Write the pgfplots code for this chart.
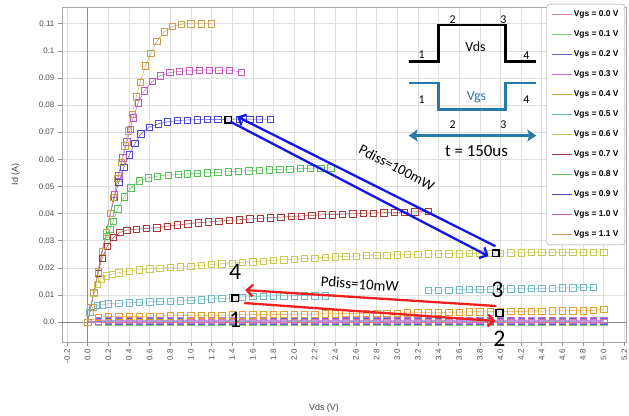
\documentclass[border=0pt]{standalone}
\usepackage{pgfplots}
\pgfplotsset{compat=1.18}
\usepackage{pgfplotstable}
\usepackage{fontspec}
\setmainfont{Liberation Sans}
\newfontfamily\calfont{Carlito}
\usetikzlibrary{arrows.meta}

\definecolor{c00}{HTML}{E878A0}
\definecolor{c01}{HTML}{78D078}
\definecolor{c02}{HTML}{6060D8}
\definecolor{c03}{HTML}{C070D8}
\definecolor{c04}{HTML}{E0A030}
\definecolor{c05}{HTML}{70B8C0}
\definecolor{c06}{HTML}{C8C850}
\definecolor{c07}{HTML}{A83838}
\definecolor{c08}{HTML}{58C058}
\definecolor{c09}{HTML}{4848C8}
\definecolor{c10}{HTML}{C058C0}
\definecolor{c11}{HTML}{C8A050}
\definecolor{vgsblue}{HTML}{2878A8}
\definecolor{arrblue}{HTML}{1414E6}
\definecolor{arrred}{HTML}{F02020}

\pgfplotstableread{
v i00 i01 i02 i03 i04
0.0 0 0 0 0 0
0.1 0 0.0001 0.0002 0.0004 0.0017
0.2 0 0.0001 0.0003 0.0006 0.0020
0.3 0 0.0001 0.0003 0.0006 0.0020
0.4 0 0.0001 0.0003 0.0006 0.0021
0.5 0 0.0001 0.0003 0.0006 0.0021
0.6 0 0.0001 0.0003 0.0006 0.0022
0.7 0 0.0001 0.0003 0.0006 0.0022
0.8 0 0.0001 0.0003 0.0006 0.0023
0.9 0 0.0001 0.0003 0.0006 0.0023
1.0 0 0.0001 0.0003 0.0006 0.0024
1.1 0 0.0001 0.0003 0.0006 0.0024
1.2 0 0.0001 0.0003 0.0006 0.0025
1.3 0 0.0001 0.0003 0.0006 0.0025
1.4 0 0.0001 0.0003 0.0006 0.0026
1.5 0 0.0001 0.0003 0.0006 0.0026
1.6 0 0.0001 0.0003 0.0006 0.0027
1.7 0 0.0001 0.0003 0.0006 0.0027
1.8 0 0.0001 0.0003 0.0006 0.0028
1.9 0 0.0001 0.0003 0.0006 0.0028
2.0 0 0.0001 0.0003 0.0006 0.0029
2.1 0 0.0001 0.0003 0.0006 0.0029
2.2 0 0.0001 0.0003 0.0006 0.0029
2.3 0 0.0001 0.0003 0.0006 0.0030
2.4 0 0.0001 0.0003 0.0006 0.0030
2.5 0 0.0001 0.0003 0.0006 0.0031
2.6 0 0.0001 0.0003 0.0006 0.0031
2.7 0 0.0001 0.0003 0.0006 0.0032
2.8 0 0.0001 0.0003 0.0006 0.0032
2.9 0 0.0001 0.0003 0.0006 0.0033
3.0 0 0.0001 0.0003 0.0006 0.0033
3.1 0 0.0001 0.0003 0.0006 0.0034
3.2 0 0.0001 0.0003 0.0006 0.0034
3.3 0 0.0001 0.0003 0.0006 0.0035
3.4 0 0.0001 0.0003 0.0006 0.0035
3.5 0 0.0001 0.0003 0.0006 0.0036
3.6 0 0.0001 0.0003 0.0006 0.0036
3.7 0 0.0001 0.0003 0.0006 0.0037
3.8 0 0.0001 0.0003 0.0006 0.0037
3.9 0 0.0001 0.0003 0.0006 0.0038
4.0 0 0.0001 0.0003 0.0006 0.0038
4.1 0 0.0001 0.0003 0.0006 0.0039
4.2 0 0.0001 0.0003 0.0006 0.0039
4.3 0 0.0001 0.0003 0.0006 0.0040
4.4 0 0.0001 0.0003 0.0006 0.0040
4.5 0 0.0001 0.0003 0.0006 0.0041
4.6 0 0.0001 0.0003 0.0006 0.0041
4.7 0 0.0001 0.0003 0.0006 0.0042
4.8 0 0.0001 0.0003 0.0006 0.0042
4.9 0 0.0001 0.0003 0.0006 0.0043
5.0 0 0.0001 0.0003 0.0006 0.0048
}\lowtab

\begin{document}
\begin{tikzpicture}
\path[use as bounding box] (0,0) rectangle (631bp,417bp);
\begin{axis}[
  at={(62bp,74bp)}, anchor=south west, scale only axis,
  width=566bp, height=336bp,
  xmin=-0.251, xmax=5.217, ymin=-0.00735, ymax=0.11618,
  xtick={-0.2,0,0.2,0.4,0.6,0.8,1.0,1.2,1.4,1.6,1.8,2.0,2.2,2.4,2.6,2.8,3.0,3.2,3.4,3.6,3.8,4.0,4.2,4.4,4.6,4.8,5.0,5.2},
  xticklabels={-0.2,0.0,0.2,0.4,0.6,0.8,1.0,1.2,1.4,1.6,1.8,2.0,2.2,2.4,2.6,2.8,3.0,3.2,3.4,3.6,3.8,4.0,4.2,4.4,4.6,4.8,5.0,5.2},
  ytick={0,0.01,0.02,0.03,0.04,0.05,0.06,0.07,0.08,0.09,0.1,0.11},
  yticklabels={0.0,0.01,0.02,0.03,0.04,0.05,0.06,0.07,0.08,0.09,0.1,0.11},
  extra x ticks={0}, extra y ticks={0},
  extra x tick labels={}, extra y tick labels={},
  extra tick style={major grid style={draw=black!45, line width=0.7bp}},
  grid=major, major grid style={draw=black!13, line width=0.5bp},
  axis line style={draw=black!35},
  tick style={draw=black!45, line width=0.5bp},
  tick align=outside, major tick length=4bp,
  xtick pos=lower, ytick pos=left,
  tick label style={font=\fontsize{8}{9}\selectfont, text=black!70},
  xticklabel style={rotate=90, anchor=east},
  xlabel={Vds (V)}, ylabel={Id (A)},
  label style={font=\fontsize{9}{10}\selectfont, text=black!75},
  xlabel style={at={(axis description cs:0.4647,-0.199)}, anchor=center},
  ylabel style={at={(axis description cs:-0.0813,0.5)}, anchor=center},
  legend image code/.code={\draw[#1, line width=1bp] (0bp,0bp) -- (20bp,0bp);},
  legend cell align=left,
  legend style={at={(axis description cs:0.9982,1.0089)}, anchor=north east,
    draw=black!40, rounded corners=3bp, fill=white,
    font=\fontsize{8.5}{10}\selectfont\bfseries,
    inner xsep=5bp, inner ysep=5bp, row sep=9.7bp,
    nodes={inner sep=1.2bp, text height=6.2bp, text depth=1.8bp}},
  every axis plot/.append style={mark=square, mark size=3.2bp, line width=0.45bp, mark options={line width=0.55bp, solid}},
]
\addlegendimage{c00}\addlegendentry{Vgs = 0.0 V}
\addlegendimage{c01}\addlegendentry{Vgs = 0.1 V}
\addlegendimage{c02}\addlegendentry{Vgs = 0.2 V}
\addlegendimage{c03}\addlegendentry{Vgs = 0.3 V}
\addlegendimage{c04}\addlegendentry{Vgs = 0.4 V}
\addlegendimage{c05}\addlegendentry{Vgs = 0.5 V}
\addlegendimage{c06}\addlegendentry{Vgs = 0.6 V}
\addlegendimage{c07}\addlegendentry{Vgs = 0.7 V}
\addlegendimage{c08}\addlegendentry{Vgs = 0.8 V}
\addlegendimage{c09}\addlegendentry{Vgs = 0.9 V}
\addlegendimage{c10}\addlegendentry{Vgs = 1.0 V}
\addlegendimage{c11}\addlegendentry{Vgs = 1.1 V}

% Vgs = 0.0 ... 0.4
\addplot[c00, forget plot] table[x=v, y=i00] {\lowtab};
\addplot[c01, forget plot] table[x=v, y=i01] {\lowtab};
\addplot[c02, forget plot] table[x=v, y=i02] {\lowtab};
\addplot[c03, forget plot] table[x=v, y=i03] {\lowtab};
\addplot[c04, forget plot] table[x=v, y=i04] {\lowtab};

% Vgs = 0.5
\addplot[c05, forget plot] coordinates {
(0,0) (0.02,0.0035) (0.05,0.0055) (0.09,0.0061) (0.14,0.0064) (0.2,0.0067)
(0.3,0.0069) (0.4,0.0071) (0.5,0.0073) (0.6,0.0074) (0.7,0.0076) (0.8,0.0077)
(0.9,0.0078) (1.0,0.0079) (1.1,0.0082) (1.2,0.0085) (1.3,0.0087) (1.4,0.0089)
(1.5,0.0092) (1.6,0.0094) (1.7,0.0095) (1.8,0.0096) (1.9,0.0096) (2.0,0.0097)
(2.1,0.0097) (2.2,0.0097) (2.3,0.0097)};
\addplot[c05, forget plot] coordinates {
(3.3,0.0117) (3.4,0.0118) (3.5,0.0118) (3.6,0.0119) (3.7,0.0120) (3.8,0.0120)
(3.9,0.0121) (4.0,0.0122) (4.1,0.0122) (4.2,0.0123) (4.3,0.0124) (4.4,0.0124)
(4.5,0.0125) (4.6,0.0126) (4.7,0.0126) (4.8,0.0127) (4.9,0.0128)};

% Vgs = 0.6
\addplot[c06, forget plot] coordinates {
(0,0) (0.03,0.0055) (0.06,0.0105) (0.09,0.0140) (0.13,0.0160) (0.18,0.0170) (0.24,0.0177)
(0.3,0.0182) (0.4,0.0188) (0.5,0.0192) (0.6,0.0196) (0.7,0.0199) (0.8,0.0201)
(0.9,0.0203) (1.0,0.0206) (1.1,0.0209) (1.2,0.0212) (1.3,0.0215) (1.4,0.0217)
(1.5,0.0220) (1.6,0.0222) (1.7,0.0225) (1.8,0.0227) (1.9,0.0230) (2.0,0.0232)
(2.1,0.0234) (2.2,0.0236) (2.3,0.0238) (2.4,0.0240) (2.5,0.0242) (2.6,0.0243)
(2.7,0.0245) (2.8,0.0246) (2.9,0.0247) (3.0,0.0248) (3.1,0.0249) (3.2,0.0250)
(3.3,0.0251) (3.4,0.0251) (3.5,0.0252) (3.6,0.0252) (3.7,0.0253) (3.8,0.0253)
(3.9,0.0254) (4.0,0.0254) (4.1,0.0255) (4.2,0.0255) (4.3,0.0256) (4.4,0.0256)
(4.5,0.0256) (4.6,0.0257) (4.7,0.0257) (4.8,0.0257) (4.9,0.0258) (5.0,0.0258)};

% Vgs = 0.7
\addplot[c07, forget plot] coordinates {
(0,0) (0.03,0.0055) (0.06,0.011) (0.1,0.0180) (0.14,0.0235) (0.19,0.0280)
(0.25,0.0312) (0.31,0.0330) (0.38,0.0339) (0.47,0.0342) (0.57,0.0345) (0.67,0.0348)
(0.77,0.0353) (0.87,0.0358) (0.97,0.0362) (1.07,0.0366) (1.17,0.0369) (1.27,0.0372)
(1.37,0.0375) (1.47,0.0377) (1.57,0.0380) (1.67,0.0382) (1.77,0.0385) (1.87,0.0387)
(1.97,0.0389) (2.07,0.0391) (2.17,0.0393) (2.27,0.0395) (2.37,0.0396) (2.47,0.0398)
(2.57,0.0399) (2.67,0.0401) (2.77,0.0402) (2.87,0.0403) (2.97,0.0404) (3.07,0.0405)
(3.17,0.0406) (3.3,0.0408)};

% Vgs = 0.8
\addplot[c08, forget plot] coordinates {
(0,0) (0.03,0.0055) (0.06,0.011) (0.1,0.0185) (0.14,0.026) (0.18,0.0315)
(0.215,0.0342) (0.248,0.0372) (0.29,0.0418) (0.354,0.0462) (0.419,0.0495) (0.5,0.0521)
(0.586,0.0532) (0.676,0.0538) (0.78,0.0542) (0.876,0.0544) (0.966,0.0546) (1.06,0.0548)
(1.16,0.0550) (1.26,0.0552) (1.36,0.0554) (1.46,0.0556) (1.56,0.0558) (1.66,0.0560)
(1.76,0.0561) (1.86,0.0563) (1.96,0.0564) (2.06,0.0566) (2.16,0.0567) (2.26,0.0568)
(2.355,0.0569)};

% Vgs = 0.9
\addplot[c09, forget plot] coordinates {
(0,0) (0.03,0.0055) (0.06,0.011) (0.1,0.0185) (0.14,0.026) (0.18,0.033)
(0.22,0.040) (0.26,0.046) (0.3,0.0515) (0.35,0.0570) (0.403,0.0617) (0.457,0.0658)
(0.515,0.0694) (0.596,0.0719) (0.683,0.0731) (0.773,0.0738) (0.866,0.0743) (0.966,0.0745)
(1.06,0.0746) (1.16,0.0747) (1.26,0.0747) (1.36,0.0748) (1.47,0.0748) (1.57,0.0748)
(1.66,0.0748) (1.77,0.0748)};

% Vgs = 1.0
\addplot[c10, forget plot] coordinates {
(0,0) (0.03,0.0055) (0.06,0.011) (0.1,0.0185) (0.14,0.026) (0.18,0.033)
(0.22,0.040) (0.26,0.047) (0.3,0.054) (0.34,0.0605) (0.38,0.0665) (0.41,0.0710)
(0.441,0.0753) (0.49,0.0808) (0.548,0.0853) (0.625,0.0887) (0.705,0.0908) (0.795,0.0920)
(0.886,0.0924) (0.985,0.0926) (1.08,0.0928) (1.18,0.0929) (1.27,0.0929) (1.37,0.0929)
(1.49,0.0922)};

% Vgs = 1.1
\addplot[c11, forget plot] coordinates {
(0,0) (0.03,0.0055) (0.06,0.011) (0.1,0.0185) (0.14,0.026) (0.18,0.033)
(0.22,0.040) (0.25,0.046) (0.29,0.053) (0.325,0.059) (0.36,0.065) (0.395,0.0705)
(0.43,0.0765) (0.47,0.083) (0.51,0.0885) (0.56,0.0945) (0.61,0.099) (0.67,0.1035)
(0.74,0.107) (0.82,0.109) (0.905,0.1098) (1.0,0.110) (1.1,0.110) (1.2,0.110)};

% highlighted operating points 1-4 and the 100 mW points
\addplot[only marks, forget plot, mark=square*, mark size=3.4bp,
  mark options={draw=black, fill=black!10, line width=1.6bp}] coordinates {
(1.362,0.0746) (3.955,0.0254) (1.43,0.0088) (3.99,0.0033)};
\end{axis}

\begin{scope}[x=1bp, y=-1bp, shift={(0bp,417bp)}]
  % inset: Vds / Vgs waveforms
  \draw[line width=2.4bp, line join=miter] (410,61.7) -- (440,61.7) -- (440,25) -- (507,25) -- (507,61.7) -- (538,61.7);
  \draw[vgsblue, line width=2.4bp, line join=miter] (410,83.3) -- (440,83.3) -- (440,110) -- (507,110) -- (507,83.3) -- (538,83.3);
  \draw[vgsblue, line width=2.6bp, {Stealth[length=9bp,width=12bp,inset=2bp]}-{Stealth[length=9bp,width=12bp,inset=2bp]}] (410,136) -- (538,136);
  \begin{scope}[every node/.style={font=\calfont\fontsize{12}{12}\selectfont, inner sep=0pt}]
    \node at (423,55) {1};
    \node at (454,20) {2};
    \node at (505,20) {3};
    \node at (528,56) {4};
    \node at (423,100) {1};
    \node at (528,100) {4};
    \node at (454,125) {2};
    \node at (505,125) {3};
  \end{scope}
  \node[font=\calfont\fontsize{14}{14}\selectfont, inner sep=0pt] at (477,47) {Vds};
  \node[font=\calfont\fontsize{14}{14}\selectfont, inner sep=0pt, text=vgsblue] at (478,98) {Vgs};
  \node[font=\calfont\fontsize{17}{17}\selectfont, inner sep=0pt] at (478,152) {t = 150us};

  % power arrows
  \draw[arrblue, line width=2.3bp, -{Straight Barb[length=6bp,width=12bp]}] (497,247) -- (238,117);
  \draw[arrblue, line width=2.3bp, -{Straight Barb[length=6bp,width=12bp]}] (231,122) -- (490,257);
  \draw[arrred, line width=2.3bp, -{Straight Barb[length=6bp,width=12bp]}] (498,307) -- (246,291);
  \draw[arrred, line width=2.3bp, -{Straight Barb[length=6bp,width=12bp]}] (245,304) -- (497,322);

  \node[font=\calfont\fontsize{14.5}{14.5}\selectfont, inner sep=0pt, rotate=-27.5] at (398,168) {Pdiss=100mW};
  \node[font=\calfont\fontsize{15}{15}\selectfont, inner sep=0pt, rotate=-4] at (361,285) {Pdiss=10mW};

  \begin{scope}[every node/.style={font=\calfont\fontsize{24}{24}\selectfont, inner sep=0pt}]
    \node at (236,273) {4};
    \node at (236,321) {1};
    \node at (499,291) {3};
    \node at (501,340) {2};
  \end{scope}
\end{scope}
\end{tikzpicture}
\end{document}
